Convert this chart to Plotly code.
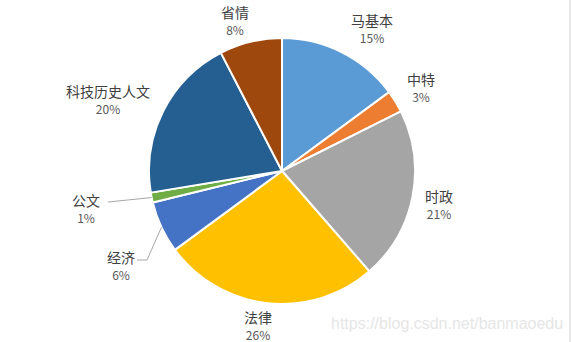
import math
import plotly.graph_objects as go

# ---- data ----
categories = ["马基本", "中特", "时政", "法律", "经济", "公文", "科技历史人文", "省情"]
values = [14.9, 2.7, 21.0, 26.3, 6.3, 1.2, 20.0, 7.6]
colors = ["#5B9BD5", "#ED7D31", "#A5A5A5", "#FFC000", "#4472C4", "#70AD47", "#255E91", "#9E480E"]

# ---- layout (pixels) ----
W, H = 571, 342
CX, CY, R = 282, 171, 133
# label block centers in pixels
label_pos = [
    (371.5, 27.8),
    (420.5, 87.2),
    (438.5, 203.5),
    (258.0, 324.5),
    (121.0, 265.2),
    (86.0, 207.5),
    (107.8, 98.8),
    (235.0, 20.2),
]

def px(x):
    return x / W

def py(y):
    return 1 - y / H

fig = go.Figure(go.Pie(
    labels=categories,
    values=values,
    sort=False,
    direction="clockwise",
    rotation=0,
    textinfo="none",
    hoverinfo="label+percent",
    marker=dict(colors=colors, line=dict(color="white", width=2)),
    domain=dict(x=[px(CX - R), px(CX + R)], y=[py(CY + R), py(CY - R)]),
    showlegend=False,
))

total = sum(values)
annotations = []
for cat, v, (lx, ly) in zip(categories, values, label_pos):
    txt = (f"<span style='font-size:14px;color:#404040'>{cat}</span><br>"
           f"<span style='font-size:12px;color:#595959'>{v/total:.0%}</span>")
    annotations.append(dict(
        x=px(lx), y=py(ly), xref="paper", yref="paper", text=txt, showarrow=False,
        xanchor="center", yanchor="middle", align="center",
        font=dict(family="Noto Sans CJK SC", size=13, color="#404040")))

annotations.append(dict(
    x=px(447), y=py(323), xref="paper", yref="paper", text="https://blog.csdn.net/banmaoedu",
    showarrow=False, xanchor="center", yanchor="middle",
    font=dict(family="Liberation Sans", size=16, color="#e6e6e6")))

# leader lines for small slices, starting at slice mid-angle on the pie edge
cum = []
acc = 0
for v in values:
    cum.append((acc + v / 2) / total * 360)
    acc += v

def edge(i):
    a = math.radians(cum[i])
    return CX + R * math.sin(a), CY - R * math.cos(a)

shapes = []
ex, ey = edge(5)  # 公文
shapes.append(dict(type="line", xref="paper", yref="paper",
                   x0=px(108), y0=py(202), x1=px(ex), y1=py(ey),
                   line=dict(color="#A6A6A6", width=1)))
ex, ey = edge(4)  # 经济
shapes.append(dict(type="path", xref="paper", yref="paper",
                   path=f"M {px(137)} {py(260)} L {px(147)} {py(260)} L {px(ex)} {py(ey)}",
                   line=dict(color="#A6A6A6", width=1)))
# right border line
shapes.append(dict(type="line", xref="paper", yref="paper",
                   x0=px(570), y0=0, x1=px(570), y1=1,
                   line=dict(color="#D0D0D0", width=1)))

fig.update_layout(
    width=W, height=H,
    margin=dict(l=0, r=0, t=0, b=0),
    paper_bgcolor="white", plot_bgcolor="white",
    annotations=annotations, shapes=shapes,
)
fig.write_html("out.html")
